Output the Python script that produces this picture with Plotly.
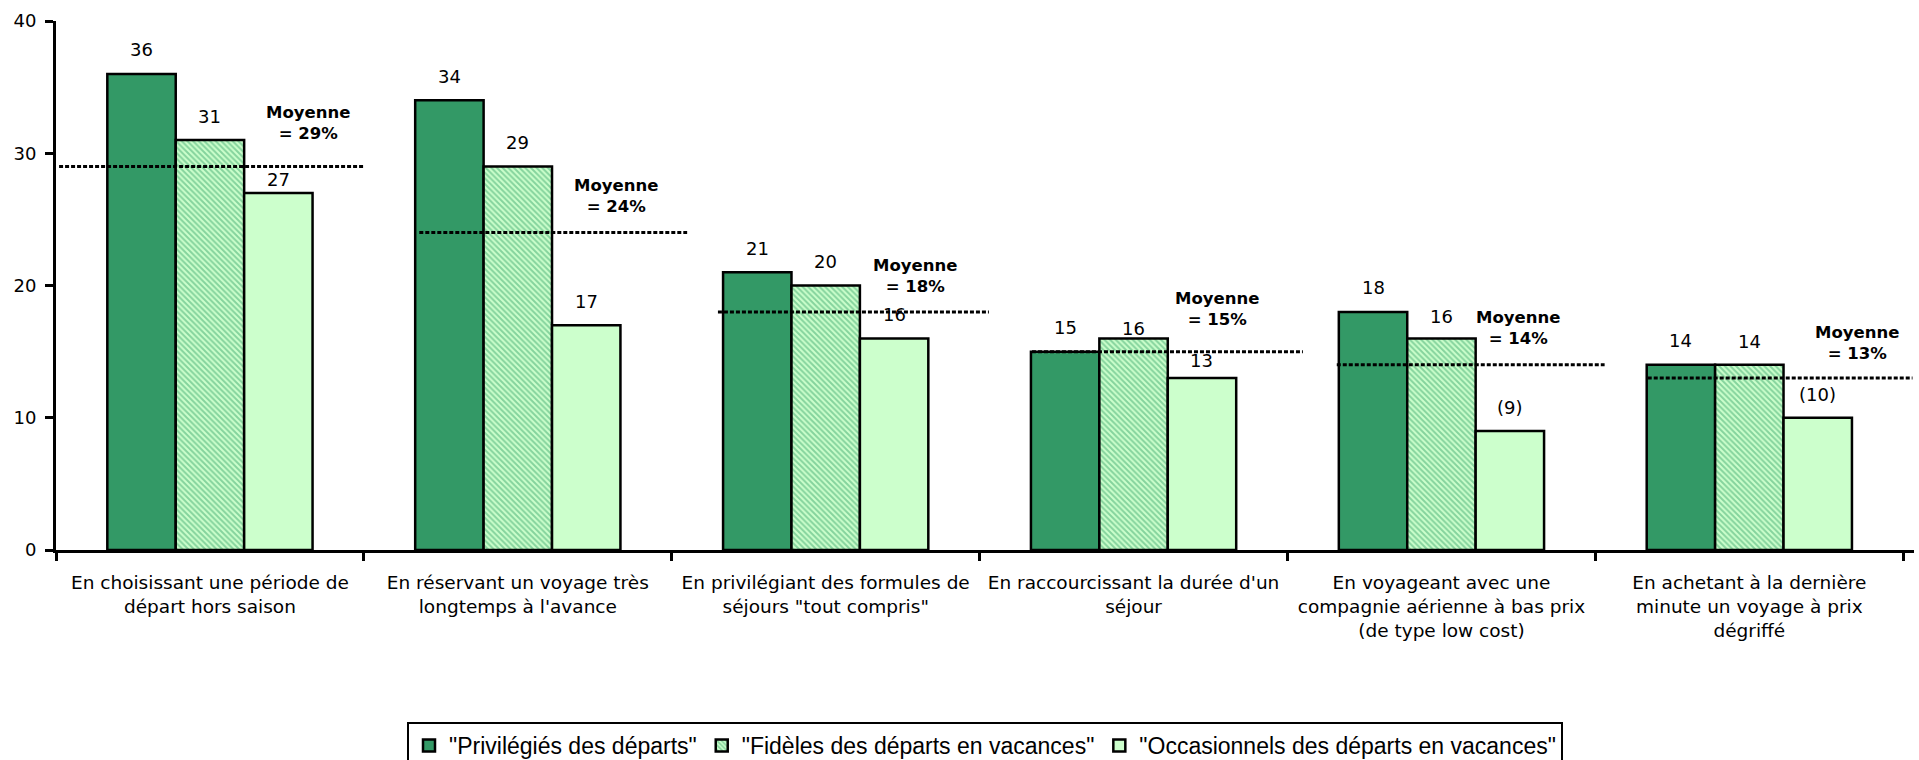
import plotly.graph_objects as go

# Categories (x axis) and series values
categories = [
    "En choisissant une période de<br>départ hors saison",
    "En réservant un voyage très<br>longtemps à l'avance",
    "En privilégiant des formules de<br>séjours \"tout compris\"",
    "En raccourcissant la durée d'un<br>séjour",
    "En voyageant avec une<br>compagnie aérienne à bas prix<br>(de type low cost)",
    "En achetant à la dernière<br>minute un voyage à prix<br>dégriffé",
]
series_names = [
    "\"Privilégiés des départs\"",
    "\"Fidèles des départs en vacances\"",
    "\"Occasionnels des départs en vacances\"",
]
privilegies = [36, 34, 21, 15, 18, 14]
fideles = [31, 29, 20, 16, 16, 14]
occasionnels = [27, 17, 16, 13, 9, 10]
# Small-sample values are shown in brackets
occasionnels_labels = ["27", "17", "16", "13", "(9)", "(10)"]
moyennes = [29, 24, 18, 15, 14, 13]

series_values = [privilegies, fideles, occasionnels]
series_labels = [[str(v) for v in privilegies], [str(v) for v in fideles], occasionnels_labels]

# Styling / layout helpers
FONT = "DejaVu Sans, Verdana, sans-serif"
BARGAP = 1 / 3
bar_w = (1 - BARGAP) / 3
bar_offsets = [-bar_w, 0.0, bar_w]
# vertical gap (px) between bar top and its value label centre
label_lift = [
    [24, 24, 24, 24, 24, 24],
    [24, 24, 24, 10, 22, 23],
    [13, 24, 24, 18, 23, 23],
]
# extent of each average line, relative to the group centre
mean_span = [(-0.49, 0.50), (-0.32, 0.55), (-0.35, 0.53), (-0.33, 0.55), (-0.34, 0.53), (-0.33, 0.53)]
mean_label_dx = [0.32, 0.32, 0.29, 0.27, 0.25, 0.35]
mean_label_lift = [21, 15, 14, 21, 15, 13]

fig = go.Figure()

fig.add_trace(go.Bar(
    x=categories, y=privilegies, name=series_names[0],
    marker=dict(color="#339966", line=dict(color="black", width=2.5)),
))
fig.add_trace(go.Bar(
    x=categories, y=fideles, name=series_names[1],
    marker=dict(
        color="#CCFFCC",
        line=dict(color="black", width=2.5),
        pattern=dict(shape="\\", fgcolor="#3DA86E", bgcolor="#CCFFCC", size=4, solidity=0.5),
    ),
))
fig.add_trace(go.Bar(
    x=categories, y=occasionnels, name=series_names[2],
    marker=dict(color="#CCFFCC", line=dict(color="black", width=2.5)),
))

annotations = []
for s, (vals, labs) in enumerate(zip(series_values, series_labels)):
    for i, (v, t) in enumerate(zip(vals, labs)):
        annotations.append(dict(
            x=i + bar_offsets[s], y=v, xref="x", yref="y", text=t,
            showarrow=False, yanchor="middle", yshift=label_lift[s][i],
            font=dict(family=FONT, size=18, color="black"),
        ))

shapes = []
for i, m in enumerate(moyennes):
    x0, x1 = mean_span[i]
    shapes.append(dict(
        type="line", xref="x", yref="y", x0=i + x0, x1=i + x1, y0=m, y1=m,
        line=dict(color="black", width=3, dash="4px,2px"),
    ))
    annotations.append(dict(
        x=i + mean_label_dx[i], y=m, xref="x", yref="y",
        text=f"<b>Moyenne</b><br><b>= {m}%</b>",
        showarrow=False, yanchor="bottom", yshift=mean_label_lift[i], align="center",
        font=dict(family=FONT, size=16.5, color="black"),
    ))

fig.update_layout(
    width=1919, height=760,
    margin=dict(l=56, r=5, t=21, b=210),
    paper_bgcolor="white", plot_bgcolor="white",
    barmode="group", bargap=BARGAP, bargroupgap=0,
    font=dict(family=FONT, size=18, color="black"),
    shapes=shapes, annotations=annotations,
    showlegend=True,
    legend=dict(
        orientation="h", xref="paper", yref="container",
        x=0.5, xanchor="center", y=0.05, yanchor="top",
        bordercolor="black", borderwidth=2, bgcolor="white",
        font=dict(family="Liberation Sans Narrow, Arial Narrow, Liberation Sans, sans-serif", size=23, color="black"),
        itemclick=False, itemwidth=30,
    ),
)
fig.update_xaxes(
    type="category", showline=True, linecolor="black", linewidth=3,
    ticks="outside", tickson="boundaries", ticklen=8, tickwidth=3, tickcolor="black",
    showgrid=False, ticklabelstandoff=14,
    tickfont=dict(family=FONT, size=18.5, color="black"),
)
fig.update_yaxes(
    range=[0, 40], dtick=10, showline=True, linecolor="black", linewidth=3,
    ticks="outside", ticklen=8, tickwidth=3, tickcolor="black",
    showgrid=False, zeroline=False, ticklabelstandoff=5,
    tickfont=dict(family=FONT, size=18, color="black"),
)

fig.write_html("out.html")
